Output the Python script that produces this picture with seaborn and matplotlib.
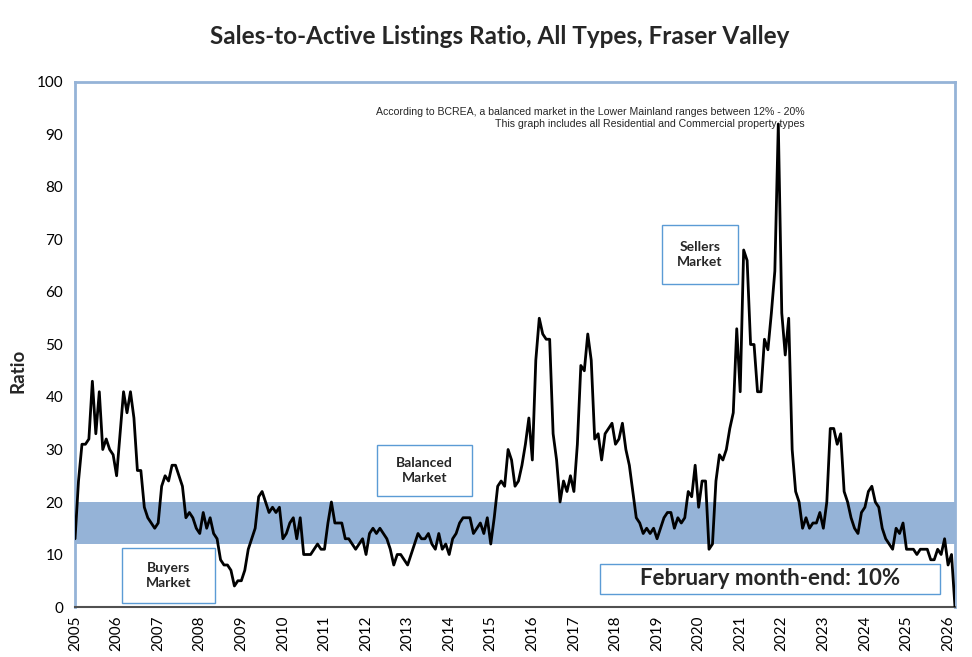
import numpy as np
import pandas as pd
import matplotlib
matplotlib.use("Agg")
import matplotlib.pyplot as plt
import seaborn as sb
from matplotlib.patches import Rectangle
from matplotlib.ticker import MultipleLocator

# monthly sales-to-active ratio (%), Jan 2005 onward
ratio_2005 = [13, 24, 31, 31, 32, 43, 33, 41, 30, 32, 30, 29]
ratio_2006 = [25, 33, 41, 37, 41, 36, 26, 26, 19, 17, 16, 15]
ratio_2007 = [16, 23, 25, 24, 27, 27, 25, 23, 17, 18, 17, 15]
ratio_2008 = [14, 18, 15, 17, 14, 13, 9, 8, 8, 7, 4, 5]
ratio_2009 = [5, 7, 11, 13, 15, 21, 22, 20, 18, 19, 18, 19]
ratio_2010 = [13, 14, 16, 17, 13, 17, 10, 10, 10, 11, 12, 11]
ratio_2011 = [11, 16, 20, 16, 16, 16, 13, 13, 12, 11, 12, 13]
ratio_2012 = [10, 14, 15, 14, 15, 14, 13, 11, 8, 10, 10, 9]
ratio_2013 = [8, 10, 12, 14, 13, 13, 14, 12, 11, 14, 11, 12]
ratio_2014 = [10, 13, 14, 16, 17, 17, 17, 14, 15, 16, 14, 17]
ratio_2015 = [12, 17, 23, 24, 23, 30, 28, 23, 24, 27, 31, 36]
ratio_2016 = [28, 47, 55, 52, 51, 51, 33, 28, 20, 24, 22, 25]
ratio_2017 = [22, 31, 46, 45, 52, 47, 32, 33, 28, 33, 34, 35]
ratio_2018 = [31, 32, 35, 30, 27, 22, 17, 16, 14, 15, 14, 15]
ratio_2019 = [13, 15, 17, 18, 18, 15, 17, 16, 17, 22, 21, 27]
ratio_2020 = [19, 24, 24, 11, 12, 24, 29, 28, 30, 34, 37, 53]
ratio_2021 = [41, 68, 66, 50, 50, 41, 41, 51, 49, 56, 64, 92]
ratio_2022 = [56, 48, 55, 30, 22, 20, 15, 17, 15, 16, 16, 18]
ratio_2023 = [15, 20, 34, 34, 31, 33, 22, 20, 17, 15, 14, 18]
ratio_2024 = [19, 22, 23, 20, 19, 15, 13, 12, 11, 15, 14, 16]
ratio_2025 = [11, 11, 11, 10, 11, 11, 11, 9, 9, 11, 10, 13]
ratio_2026 = [8, 10, 0]  # empty March cell is drawn as 0 in the source

year_ticks = list(range(2005, 2027))
balanced_low, balanced_high = 12, 20

ratio = (ratio_2005 + ratio_2006 + ratio_2007 + ratio_2008 + ratio_2009 + ratio_2010
         + ratio_2011 + ratio_2012 + ratio_2013 + ratio_2014 + ratio_2015 + ratio_2016
         + ratio_2017 + ratio_2018 + ratio_2019 + ratio_2020 + ratio_2021 + ratio_2022
         + ratio_2023 + ratio_2024 + ratio_2025 + ratio_2026)
df = pd.DataFrame({"year": 2005 + np.arange(len(ratio)) / 12, "ratio": ratio})

sb.set_style("white")
plt.rcParams["font.family"] = ["Lato", "DejaVu Sans"]

fig = plt.figure(figsize=(9.72, 6.57), dpi=100)
ax = fig.add_axes([0.0772, 0.0761, 0.9053, 0.7991])

ax.axhspan(balanced_low, balanced_high, color="#95B3D7", lw=0, zorder=1)
sb.lineplot(data=df, x="year", y="ratio", color="black", lw=2, ax=ax, zorder=3)

ax.set_xlim(df["year"].iloc[0], df["year"].iloc[-1])
ax.set_ylim(0, 100)
ax.set_yticks(range(0, 101, 10))
ax.set_xticks(year_ticks)
ax.xaxis.set_minor_locator(MultipleLocator(1 / 12))
ax.tick_params(axis="x", which="both", direction="out", length=4, width=0.8,
               color="#606060", labelsize=11, labelcolor="black", rotation=90, pad=2)
ax.tick_params(axis="y", direction="out", length=5, color="#808080", labelsize=11,
               labelcolor="black")
ax.set_xlabel("")
ax.set_ylabel("")

for side in ["left", "top", "right"]:
    ax.spines[side].set_color("#95B3D7")
    ax.spines[side].set_linewidth(2)
ax.spines["bottom"].set_color("#505050")
ax.spines["bottom"].set_linewidth(1.5)

fig.text(0.514, 0.944, "Sales-to-Active Listings Ratio, All Types, Fraser Valley",
         ha="center", va="center", fontsize=17.5, fontweight="bold")
fig.text(0.019, 0.435, "Ratio", rotation=90, ha="center", va="center",
         fontsize=13.5, fontweight="bold")

ax.text(0.829, 0.943, "According to BCREA, a balanced market in the Lower Mainland ranges between 12% - 20%",
        transform=ax.transAxes, ha="right", va="center", fontsize=7.6, family="Liberation Sans")
ax.text(0.829, 0.920, "This graph includes all Residential and Commercial property types",
        transform=ax.transAxes, ha="right", va="center", fontsize=7.6, family="Liberation Sans")

boxes = [
    ((0.343, 0.211), 0.108, 0.098, "Balanced\nMarket", 10),
    ((0.053, 0.008), 0.106, 0.104, "Buyers\nMarket", 10),
    ((0.667, 0.615), 0.086, 0.113, "Sellers\nMarket", 10),
    ((0.597, 0.025), 0.386, 0.057, "February month-end: 10%", 16),
]
for (bx, by), bw, bh, label, fs in boxes:
    ax.add_patch(Rectangle((bx, by), bw, bh, transform=ax.transAxes, facecolor="white",
                           edgecolor="#5B9BD5", lw=1, zorder=4))
    ax.text(bx + bw / 2, by + bh / 2, label, transform=ax.transAxes, ha="center",
            va="center", fontsize=fs, fontweight="bold", linespacing=1.3, zorder=5)

plt.savefig("out.png", dpi=100)
